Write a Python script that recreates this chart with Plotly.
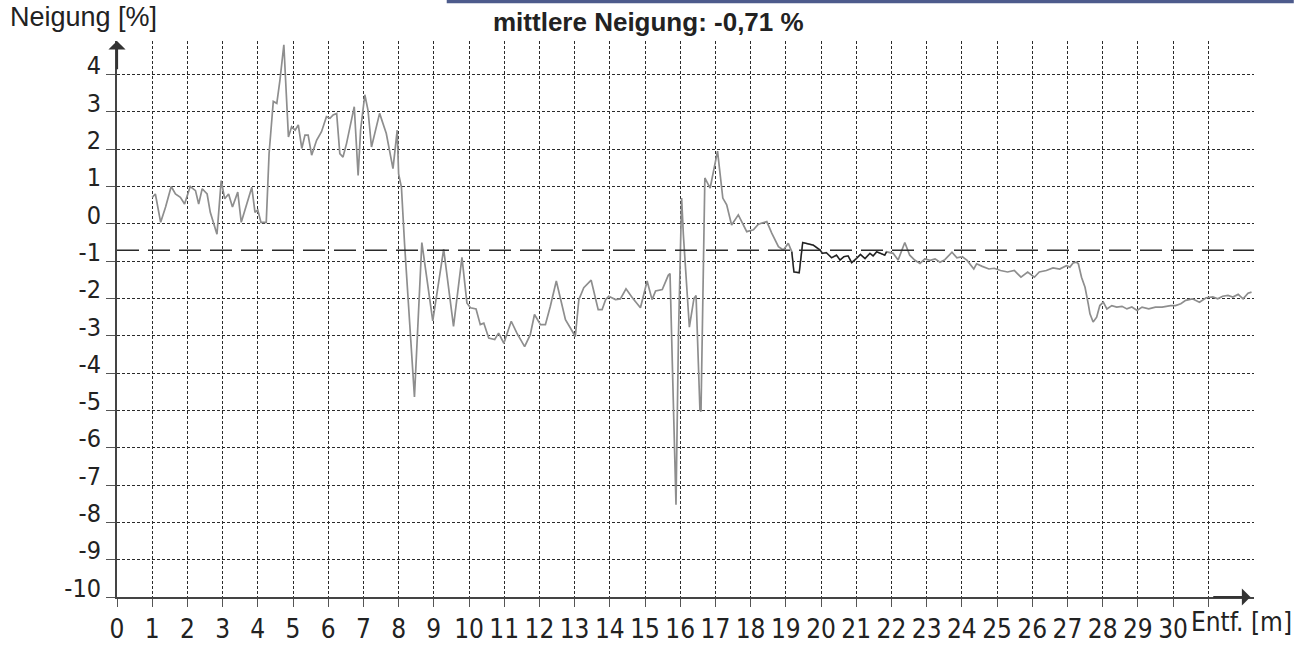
import plotly.graph_objects as go

# ---- data ----
dist = [1.00, 1.09, 1.24, 1.38, 1.54, 1.66, 1.80, 1.92, 2.08, 2.23, 2.32, 2.42, 2.56, 2.65, 2.84, 2.96,
        3.06, 3.17, 3.28, 3.43, 3.53, 3.69, 3.83, 3.92, 4.00, 4.09, 4.24, 4.32, 4.44, 4.54, 4.63, 4.74,
        4.87, 4.96, 5.06, 5.15, 5.25, 5.34, 5.43, 5.53, 5.67, 5.81, 5.95, 6.05, 6.14, 6.24, 6.33, 6.42,
        6.52, 6.74, 6.85, 6.92, 7.04, 7.13, 7.23, 7.46, 7.65, 7.84, 7.96, 8.00, 8.08, 8.17, 8.30, 8.45,
        8.66, 8.97, 9.28, 9.56, 9.80, 9.94, 10.04, 10.20, 10.32, 10.42, 10.56, 10.73, 10.84, 10.99,
        11.20, 11.36, 11.58, 11.74, 11.86, 12.03, 12.17, 12.31, 12.48, 12.60, 12.74, 12.88, 13.02,
        13.12, 13.26, 13.47, 13.59, 13.67, 13.78, 13.88, 13.97, 14.16, 14.30, 14.46, 14.64, 14.87,
        15.06, 15.20, 15.30, 15.49, 15.66, 15.71, 15.78, 15.88, 15.95, 16.04, 16.09, 16.26, 16.39,
        16.45, 16.56, 16.59, 16.70, 16.85, 17.06, 17.21, 17.32, 17.46, 17.65, 17.89, 18.08, 18.22,
        18.46, 18.60, 18.79, 18.93, 19.07, 19.17,
        19.23, 19.38, 19.48, 19.78, 19.97, 20.04, 20.15, 20.30, 20.44, 20.54, 20.65, 20.77, 20.87,
        21.01, 21.12, 21.25, 21.39, 21.48, 21.58, 21.69, 21.81, 21.86,
        22.05, 22.19, 22.38, 22.52, 22.66, 22.81, 22.95, 23.10, 23.24, 23.38, 23.52, 23.72, 23.86,
        24.01, 24.15, 24.34, 24.42, 24.58, 24.77, 24.92, 25.10, 25.30, 25.49, 25.68, 25.87, 26.06,
        26.20, 26.40, 26.59, 26.78, 26.97, 27.07, 27.16, 27.26, 27.31, 27.40, 27.50, 27.59, 27.64,
        27.73, 27.83, 27.92, 28.02, 28.12, 28.26, 28.40, 28.55, 28.69, 28.83, 28.98, 29.12, 29.31,
        29.50, 29.69, 29.93, 30.07, 30.22, 30.36, 30.55, 30.75, 30.94, 31.13, 31.27, 31.41, 31.56,
        31.70, 31.85, 31.99, 32.13, 32.23]

slope = [0.71, 0.80, 0.04, 0.45, 1.00, 0.80, 0.71, 0.53, 1.00, 0.89, 0.53, 0.94, 0.80, 0.31, -0.28, 1.16,
         0.67, 0.80, 0.45, 0.85, 0.04, 0.53, 0.98, 0.31, 0.37, 0.04, 0.04, 1.88, 3.28, 3.23, 3.86, 4.80,
         2.33, 2.60, 2.51, 2.65, 2.02, 2.38, 2.38, 1.84, 2.24, 2.47, 2.87, 2.83, 2.92, 2.96, 1.88, 1.79,
         2.15, 3.14, 1.30, 2.51, 3.46, 3.05, 2.06, 2.96, 2.42, 1.48, 2.51, 1.34, 0.98, -0.55, -2.60, -4.64,
         -0.50, -2.60, -0.68, -2.75, -0.90, -2.12, -2.25, -2.28, -2.70, -2.66, -3.06, -3.10, -2.93, -3.20,
         -2.61, -2.93, -3.29, -2.97, -2.43, -2.70, -2.70, -2.21, -1.53, -2.03, -2.57, -2.79, -3.02,
         -2.03, -1.71, -1.51, -1.94, -2.30, -2.30, -2.03, -1.94, -2.03, -2.01, -1.74, -1.98, -2.25,
         -1.53, -2.03, -1.80, -1.76, -1.38, -1.33, -3.90, -7.53, -3.00, 0.69, -0.30, -2.77, -2.00,
         -1.92, -4.98, -5.03, 1.23, 0.96, 1.95, 0.69, 0.51, -0.03, 0.24, -0.21, -0.16, -0.01,
         0.06, -0.25, -0.61, -0.70, -0.52, -0.75,
         -1.29, -1.31, -0.50, -0.57, -0.70, -0.79, -0.77, -0.91, -0.84, -0.97, -0.88, -0.86, -1.04,
         -0.93, -0.82, -0.93, -0.79, -0.86, -0.75, -0.79, -0.84, -0.75,
         -0.79, -0.97, -0.50, -0.84, -0.97, -1.06, -0.94, -0.98, -0.94, -1.03, -0.96, -0.76, -0.91,
         -0.88, -0.98, -1.21, -1.07, -1.14, -1.21, -1.19, -1.25, -1.29, -1.25, -1.43, -1.29, -1.43,
         -1.29, -1.25, -1.18, -1.21, -1.12, -1.16, -1.05, -1.03, -1.07, -1.43, -1.70, -2.14, -2.41,
         -2.63, -2.50, -2.19, -2.10, -2.28, -2.19, -2.23, -2.21, -2.28, -2.23, -2.32, -2.23, -2.28,
         -2.23, -2.23, -2.19, -2.19, -2.14, -2.05, -2.01, -2.10, -1.98, -1.96, -2.01, -1.94, -1.92,
         -1.96, -1.89, -2.01, -1.86, -1.83]

dark_from, dark_to = 19.17, 21.86          # part of the trace drawn in black
mean_slope = -0.71
title_text = "mittlere Neigung: -0,71 %"
y_title = "Neigung [%]"
x_title = "Entf. [m]"
x_ticks = list(range(0, 32))
x_ticklabels = [str(v) for v in range(0, 31)] + [""]
y_ticks = list(range(-10, 5))
y_ticklabels = [str(v) for v in y_ticks]

X_MAX, Y_MIN, Y_MAX = 32.3, -10, 4.9
NARROW = "Liberation Sans Narrow, Arial Narrow, DejaVu Sans Condensed, sans-serif"
SANS = "Liberation Sans, Arial, sans-serif"

fig = go.Figure()

# gray main trace
fig.add_trace(go.Scatter(x=dist, y=slope, mode="lines",
                         line=dict(color="#8e8e8e", width=1.7), hoverinfo="skip"))
# dark part
dx = [d for d in dist if dark_from <= d <= dark_to]
dy = [s for d, s in zip(dist, slope) if dark_from <= d <= dark_to]
fig.add_trace(go.Scatter(x=dx, y=dy, mode="lines",
                         line=dict(color="#1e1e1e", width=1.3), hoverinfo="skip"))

# mean line
fig.add_shape(type="line", xref="x", yref="y", x0=0, x1=X_MAX, y0=mean_slope, y1=mean_slope,
              line=dict(color="#2a2a2a", width=1.5, dash="22px,9px"))

# axis arrows
fig.add_annotation(x=0, y=Y_MAX, ax=0, ay=Y_MAX - 0.8, xref="x", yref="y", axref="x", ayref="y",
                   text="", showarrow=True, arrowhead=1, arrowsize=1.3, arrowwidth=2.2,
                   arrowcolor="#333")
fig.add_annotation(x=X_MAX - 0.1, y=Y_MIN, ax=X_MAX - 1.2, ay=Y_MIN, xref="x", yref="y",
                   axref="x", ayref="y", text="", showarrow=True, arrowhead=1, arrowsize=1.3,
                   arrowwidth=2.2, arrowcolor="#333")

# texts (paper coordinates)
fig.add_annotation(x=0.4675, y=1.034, xref="paper", yref="paper", text="<b>" + title_text + "</b>",
                   showarrow=False, font=dict(family=SANS, size=26, color="#222"),
                   xanchor="center", yanchor="middle")
fig.add_annotation(x=-0.0959, y=1.043, xref="paper", yref="paper", text=y_title, showarrow=False,
                   font=dict(family=SANS, size=27, color="#222"), xanchor="left", yanchor="middle")
fig.add_annotation(x=31.95, y=Y_MIN, xref="x", yref="y", yshift=-8, text=x_title, showarrow=False,
                   font=dict(family=NARROW, size=26, color="#222"), xanchor="center", yanchor="top")

# top border decoration from the scan
fig.add_shape(type="rect", xref="paper", yref="paper", x0=0.29, x1=1.035, y0=1.068, y1=1.085,
              line=dict(width=0), fillcolor="#4d5b8c")

grid = dict(showgrid=True, gridcolor="#2b2b2b", gridwidth=1, griddash="3px,2px", zeroline=False)

fig.update_xaxes(range=[0, X_MAX], tickmode="array", tickvals=x_ticks, ticktext=x_ticklabels,
                 ticks="outside", ticklen=8, tickcolor="#555", tickwidth=1,
                 showline=True, linecolor="#444", linewidth=2, automargin=False,
                 tickfont=dict(family=NARROW, size=26, color="#222"), **grid)
fig.update_yaxes(range=[Y_MIN, Y_MAX], tickmode="array", tickvals=y_ticks, ticktext=y_ticklabels,
                 ticks="outside", ticklen=9, tickcolor="#555", tickwidth=1,
                 showline=True, linecolor="#444", linewidth=2, ticklabelshift=-9, automargin=False,
                 tickfont=dict(family=NARROW, size=25, color="#222"), **grid)

fig.update_layout(width=1303, height=645, margin=dict(l=117, r=49, t=41, b=48),
                  paper_bgcolor="white", plot_bgcolor="white", showlegend=False)

# remove the default 8px page margin so the figure sits at the window's top-left corner
fig.write_html("out.html", config={"displayModeBar": False},
               post_script="document.body.style.margin='0';")
